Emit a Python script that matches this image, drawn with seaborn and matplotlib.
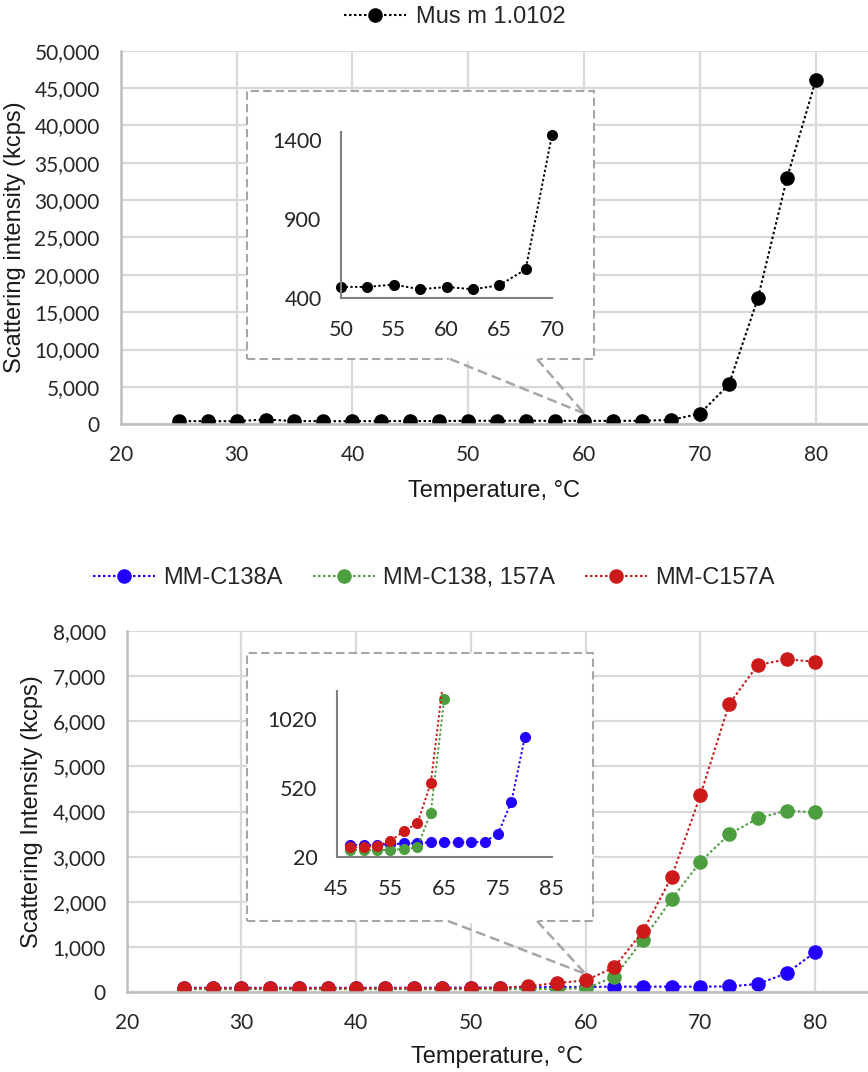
import numpy as np
import pandas as pd
import matplotlib
matplotlib.use("Agg")
import matplotlib.pyplot as plt
from matplotlib.lines import Line2D
from matplotlib.patches import Rectangle
from matplotlib.ticker import FuncFormatter
from matplotlib.font_manager import FontProperties
import seaborn as sns

# temperatures (°C)
temps = [25, 27.5, 30, 32.5, 35, 37.5, 40, 42.5, 45, 47.5, 50, 52.5,
         55, 57.5, 60, 62.5, 65, 67.5, 70, 72.5, 75, 77.5, 80]

# top panel: Mus m 1.0102 (kcps)
mus = [430, 420, 420, 640, 430, 420, 420, 430, 430, 440, 470, 470,
       485, 455, 470, 455, 480, 580, 1430, 5350, 16900, 32900, 46100]

# bottom panel mutants (kcps)
c138a = [100, 100, 100, 100, 100, 100, 100, 100, 100, 105, 105, 105,
         110, 117, 118, 125, 125, 125, 125, 130, 185, 420, 890]
c138_157a = [70, 70, 70, 70, 70, 70, 70, 70, 70, 69, 69, 69,
             70, 75, 88, 340, 1165, 2064, 2890, 3495, 3850, 4018, 3982]
c157a = [90, 90, 90, 90, 90, 90, 90, 90, 90, 88, 88, 100,
         134, 207, 262, 555, 1356, 2558, 4365, 6378, 7241, 7367, 7314]

names = ["MM-C138A", "MM-C138, 157A", "MM-C157A"]
colors = ["#2200FF", "#4C9E3F", "#CC1A1A"]

sns.set_style("white")
plt.rcParams['font.family'] = ['Lato', 'DejaVu Sans']

W, H = 868, 1072
fig = plt.figure(figsize=(W / 100, H / 100), dpi=100)


def px_box(x0, y0, x1, y1):
    # pixel rect (top-left origin) -> figure fraction [l, b, w, h]
    return [x0 / W, 1 - y1 / H, (x1 - x0) / W, (y1 - y0) / H]


tick_col = '#262626'
lab_font = dict(family=['Liberation Sans', 'DejaVu Sans'], size=17, color='#1a1a1a')
leg_prop = FontProperties(family=['Liberation Sans', 'DejaVu Sans'], size=17)
LS = (0, (1.2, 1.2))


def style_main(ax, ymax, ystep, xmax):
    ax.set_xlim(20, xmax)
    ax.set_ylim(0, ymax)
    ax.set_xticks(range(20, 81, 10))
    ax.set_yticks(np.arange(0, ymax + 1, ystep))
    ax.yaxis.set_major_formatter(FuncFormatter(lambda v, p: f'{int(v):,}'))
    ax.grid(True, color='#D9D9D9', lw=1.6)
    ax.set_axisbelow(True)
    for s in ['top', 'right']:
        ax.spines[s].set_visible(False)
    for s in ['left', 'bottom']:
        ax.spines[s].set_color('#BFBFBF')
        ax.spines[s].set_linewidth(1.8)
    ax.tick_params(axis='both', length=0, labelsize=15, colors=tick_col)
    ax.tick_params(axis='y', pad=15)
    ax.tick_params(axis='x', pad=15)
    ax.set_xlabel("Temperature, °C", fontdict=lab_font)


def style_inset(ax, xlim, xt, ylim, yt):
    ax.set_facecolor('none')
    ax.set_xlim(*xlim)
    ax.set_ylim(*ylim)
    ax.set_xticks(xt)
    ax.set_yticks(yt)
    for s in ['top', 'right']:
        ax.spines[s].set_visible(False)
    for s in ['left', 'bottom']:
        ax.spines[s].set_color('#808080')
        ax.spines[s].set_linewidth(1.5)
    ax.tick_params(direction='out', length=5, width=1.5, color='#808080',
                   labelsize=15.5, labelcolor=tick_col)
    ax.tick_params(axis='x', pad=11)
    ax.tick_params(axis='y', pad=9)
    ax.grid(False)


def callout(ax, box, gap, tip):
    x0, y0, x1, y1 = box
    fx = lambda v: v / W
    fy = lambda v: 1 - v / H
    rect = Rectangle((fx(x0), fy(y1)), (x1 - x0) / W, (y1 - y0) / H,
                     transform=fig.transFigure, facecolor='white',
                     edgecolor='#A6A6A6', lw=1.5, ls=(0, (4, 2)), zorder=1)
    fig.add_artist(rect)
    # white gap on the lower edge where the pointer leaves the box
    fig.add_artist(Line2D([fx(gap[0]), fx(gap[1])], [fy(y1), fy(y1)],
                          transform=fig.transFigure, color='white', lw=2.5, zorder=1.1))
    tx, ty = fig.transFigure.inverted().transform(ax.transData.transform(tip))
    for gx in gap:
        fig.add_artist(Line2D([fx(gx), tx], [fy(y1), ty], transform=fig.transFigure,
                              color='#A6A6A6', lw=1.8, ls=(0, (4, 2)), zorder=1.2))


# ---------------- top panel ----------------
ax1 = fig.add_axes(px_box(120.7, 50.7, W, 424.3))
sns.lineplot(x=temps, y=mus, ax=ax1, color='black', marker='o', markersize=10.5,
             markeredgewidth=0, linestyle=LS, lw=1.5, legend=False)
style_main(ax1, 50000, 5000, 84.5)
ax1.set_ylabel("Scattering intensity (kcps)", fontdict=lab_font)
ax1.yaxis.set_label_coords(-(120.7 - 26) / (W - 120.7), 0.5)
ax1.xaxis.set_label_coords(0.5, -(480 - 424.3) / (424.3 - 50.7))

callout(ax1, (247, 91, 594, 359), (450, 537), (60, 1470))

top_df = pd.DataFrame({'T': temps, 'I': mus})
top_in = top_df[(top_df['T'] >= 50) & (top_df['T'] <= 70)]
ins1 = fig.add_axes(px_box(341, 132, 552, 298), zorder=3)
sns.lineplot(data=top_in, x='T', y='I', ax=ins1, color='black', marker='o',
             markersize=8, markeredgewidth=0, linestyle=LS, lw=1.4)
for ln in ins1.lines:
    ln.set_clip_on(False)
style_inset(ins1, (50, 70), [50, 55, 60, 65, 70], (400, 1448), [400, 900, 1400])
ins1.set_xlabel('')
ins1.set_ylabel('')

h1 = [Line2D([], [], color='black', ls=LS, lw=1.5, marker='o', markersize=10.5,
             markeredgewidth=0)]
fig.legend(h1, ["Mus m 1.0102"], loc='center', bbox_to_anchor=(455 / W, 1 - 17 / H),
           frameon=False, prop=leg_prop, handlelength=2.6, handletextpad=0.45)

# ---------------- bottom panel ----------------
ax2 = fig.add_axes(px_box(126.7, 630.7, W, 992.3))
bot = pd.DataFrame({
    'T': temps * 3,
    'I': c138a + c138_157a + c157a,
    'series': [names[0]] * len(temps) + [names[1]] * len(temps) + [names[2]] * len(temps),
})
for nm, col in zip(names, colors):
    sub = bot[bot['series'] == nm]
    sns.lineplot(data=sub, x='T', y='I', ax=ax2, color=col, marker='o', markersize=10.5,
                 markeredgewidth=0, linestyle=LS, lw=1.5, legend=False)
style_main(ax2, 8000, 1000, 84.6)
ax2.set_ylabel("Scattering Intensity (kcps)", fontdict=lab_font)
ax2.yaxis.set_label_coords(-(126.7 - 43) / (W - 126.7), 0.5)
ax2.xaxis.set_label_coords(0.5, -(1046 - 992.3) / (992.3 - 630.7))

callout(ax2, (247, 652.5, 593, 921), (448, 537), (60, 405))

ins2 = fig.add_axes(px_box(336.7, 691, 551.7, 856.7), zorder=3)
ranges = {names[0]: (47.5, 80), names[1]: (47.5, 65), names[2]: (47.5, 65)}
for nm, col in zip(names, colors):
    lo, hi = ranges[nm]
    sub = bot[(bot['series'] == nm) & (bot['T'] >= lo) & (bot['T'] <= hi)]
    sns.lineplot(data=sub, x='T', y='I', ax=ins2, color=col, marker='o', markersize=8,
                 markeredgewidth=0, linestyle=LS, lw=1.4, legend=False)
style_inset(ins2, (45, 85), [45, 55, 65, 75, 85], (20, 1226), [20, 520, 1020])
ins2.set_xlabel('')
ins2.set_ylabel('')

h2 = [Line2D([], [], color=c, ls=LS, lw=1.5, marker='o', markersize=10.5, markeredgewidth=0)
      for c in colors]
fig.legend(h2, names, loc='center', bbox_to_anchor=(434 / W, 1 - 578 / H), ncol=3,
           frameon=False, prop=leg_prop, handlelength=2.6, handletextpad=0.35,
           columnspacing=1.3)

fig.savefig("out.png", dpi=100, facecolor='white')
